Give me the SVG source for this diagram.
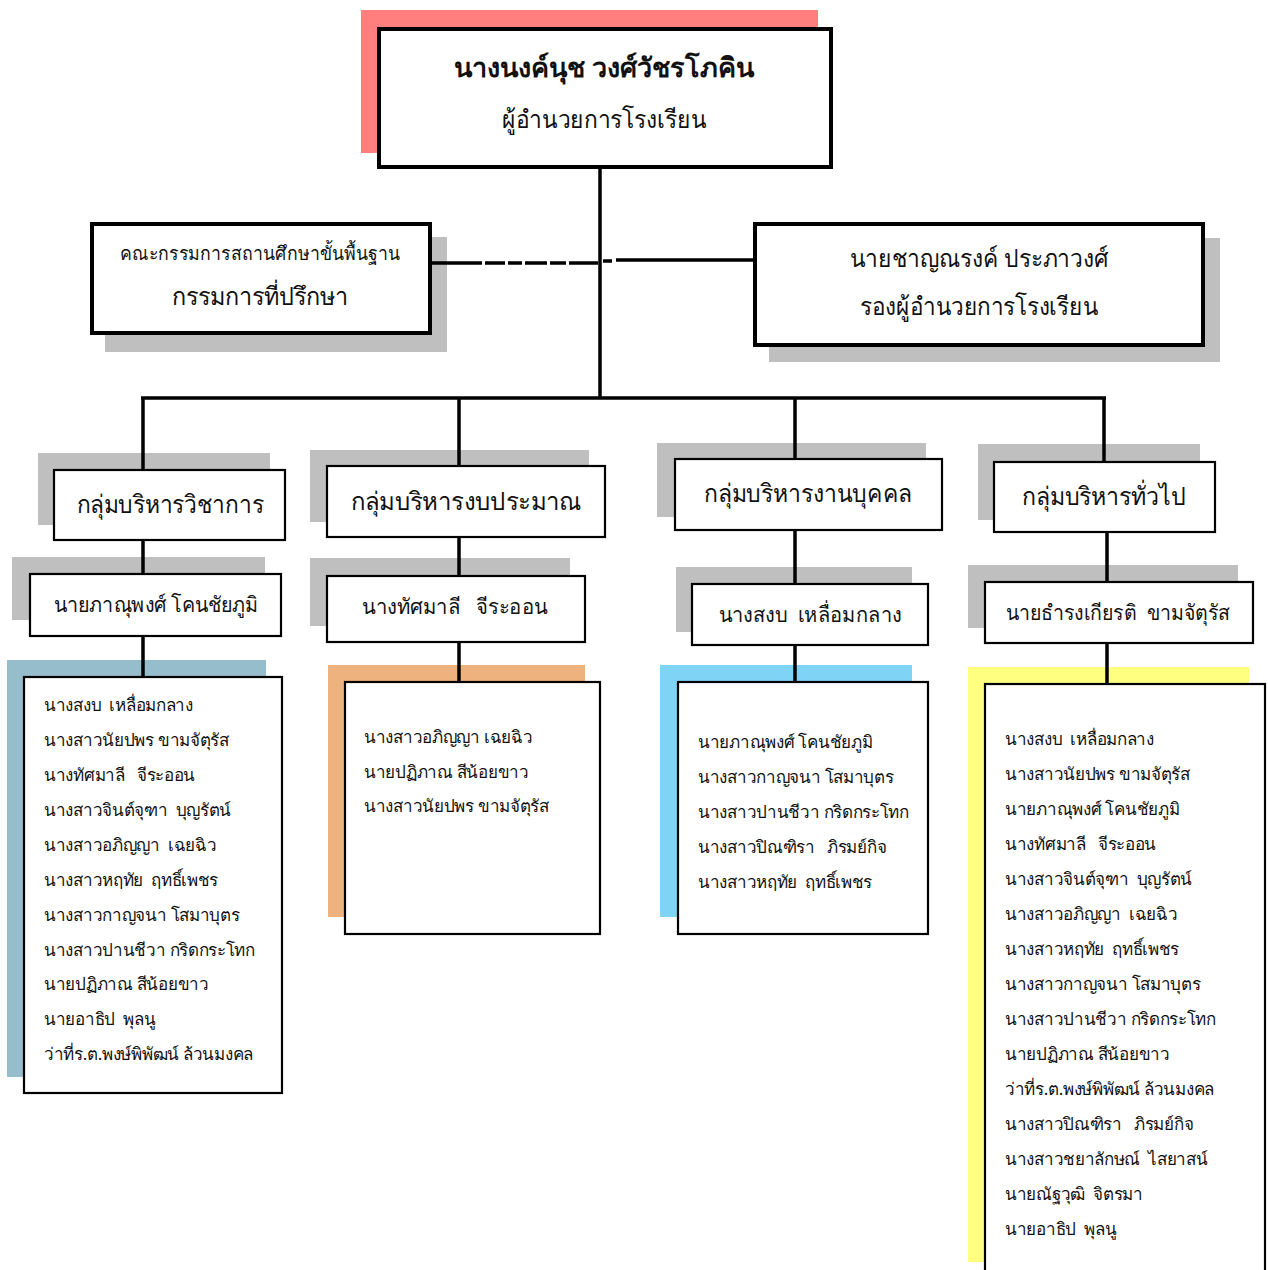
<svg xmlns="http://www.w3.org/2000/svg" width="1268" height="1270" viewBox="0 0 1268 1270">
<style>
text{font-family:"Noto Sans","DejaVu Sans","Liberation Sans",sans-serif;fill:#111}
.sh{fill:#BFBFBF}
.b4{fill:#fff;stroke:#000;stroke-width:4}
.b2{fill:#fff;stroke:#000;stroke-width:2.2}
.c{stroke:#000;stroke-width:3.5;fill:none}
.t1{font-size:27px;font-weight:bold;text-anchor:middle}
.t2{font-size:25px;text-anchor:middle}
.t3{font-size:19px;text-anchor:middle}
.g{font-size:25px;text-anchor:middle}
.h{font-size:21px;text-anchor:middle}
.l{font-size:17px;letter-spacing:-0.3px}
</style>
<rect width="1268" height="1270" fill="#fff"/>
<g id="director">
<rect x="361" y="10" width="457" height="143" fill="#FF7F7F"/>
<rect x="379" y="29" width="452" height="138" class="b4"/>
<text x="604" y="77" class="t1">นางนงค์นุช วงศ์วัชรโภคิน</text>
<text x="604" y="128" class="t2" textLength="204" lengthAdjust="spacingAndGlyphs">ผู้อำนวยการโรงเรียน</text>
</g>
<g id="advisory">
<rect x="105" y="237" width="342" height="115" class="sh"/>
<rect x="92" y="224" width="338" height="109" class="b4"/>
<text x="260" y="260" class="t3" textLength="280" lengthAdjust="spacingAndGlyphs">คณะกรรมการสถานศึกษาขั้นพื้นฐาน</text>
<text x="260" y="305" class="t2" textLength="177" lengthAdjust="spacingAndGlyphs">กรรมการที่ปรึกษา</text>
</g>
<g id="deputy">
<rect x="769" y="238" width="451" height="124" class="sh"/>
<rect x="755" y="224" width="448" height="121" class="b4"/>
<text x="979" y="267" class="t2" textLength="259" lengthAdjust="spacingAndGlyphs">นายชาญณรงค์ ประภาวงศ์</text>
<text x="979" y="315" class="t2" textLength="238" lengthAdjust="spacingAndGlyphs">รองผู้อำนวยการโรงเรียน</text>
</g>
<g id="group-academic">
<rect x="38" y="453" width="232" height="72" class="sh"/>
<rect x="54" y="470" width="231" height="70" class="b2"/>
<text x="170" y="513" class="g" textLength="187" lengthAdjust="spacingAndGlyphs">กลุ่มบริหารวิชาการ</text>
</g>
<g id="group-budget">
<rect x="310" y="450" width="279" height="72" class="sh"/>
<rect x="327" y="466" width="278" height="71" class="b2"/>
<text x="466" y="510" class="g" textLength="231" lengthAdjust="spacingAndGlyphs">กลุ่มบริหารงบประมาณ</text>
</g>
<g id="group-personnel">
<rect x="657" y="443" width="269" height="74" class="sh"/>
<rect x="675" y="459" width="267" height="71" class="b2"/>
<text x="808" y="502" class="g" textLength="208" lengthAdjust="spacingAndGlyphs">กลุ่มบริหารงานบุคคล</text>
</g>
<g id="group-general">
<rect x="978" y="444" width="222" height="76" class="sh"/>
<rect x="994" y="462" width="221" height="70" class="b2"/>
<text x="1104" y="505" class="g" textLength="164" lengthAdjust="spacingAndGlyphs">กลุ่มบริหารทั่วไป</text>
</g>
<g id="head-academic">
<rect x="12" y="557" width="253" height="63" class="sh"/>
<rect x="30" y="574" width="251" height="62" class="b2"/>
<text x="156" y="612" class="h" textLength="205" lengthAdjust="spacingAndGlyphs">นายภาณุพงศ์ โคนชัยภูมิ</text>
</g>
<g id="head-budget">
<rect x="310" y="558" width="260" height="68" class="sh"/>
<rect x="327" y="576" width="258" height="66" class="b2"/>
<text x="455" y="614" class="h" xml:space="preserve" textLength="186" lengthAdjust="spacingAndGlyphs">นางทัศมาลี   จีระออน</text>
</g>
<g id="head-personnel">
<rect x="676" y="567" width="236" height="65" class="sh"/>
<rect x="692" y="584" width="236" height="61" class="b2"/>
<text x="810" y="622" class="h" xml:space="preserve" textLength="183" lengthAdjust="spacingAndGlyphs">นางสงบ  เหลื่อมกลาง</text>
</g>
<g id="head-general">
<rect x="968" y="565" width="270" height="63" class="sh"/>
<rect x="985" y="582" width="268" height="61" class="b2"/>
<text x="1118" y="620" class="h" xml:space="preserve" textLength="225" lengthAdjust="spacingAndGlyphs">นายธำรงเกียรติ  ขามจัตุรัส</text>
</g>
<g id="list-academic">
<rect x="7" y="660" width="259" height="417" fill="#95BDCB"/>
<line x1="143" y1="660" x2="143" y2="677" class="c"/>
<rect x="24" y="677" width="258" height="416" class="b2"/>
<text class="l" xml:space="preserve"><tspan x="44" y="711">นางสงบ  เหลื่อมกลาง</tspan><tspan x="44" y="746">นางสาวนัยปพร ขามจัตุรัส</tspan><tspan x="44" y="781">นางทัศมาลี   จีระออน</tspan><tspan x="44" y="816">นางสาวจินต์จุฑา  บุญรัตน์</tspan><tspan x="44" y="851">นางสาวอภิญญา  เฉยฉิว</tspan><tspan x="44" y="886">นางสาวหฤทัย  ฤทธิ์เพชร</tspan><tspan x="44" y="921">นางสาวกาญจนา โสมาบุตร</tspan><tspan x="44" y="956">นางสาวปานชีวา กริดกระโทก</tspan><tspan x="44" y="990">นายปฏิภาณ สีน้อยขาว</tspan><tspan x="44" y="1025">นายอาธิป  พุลนู</tspan><tspan x="44" y="1060">ว่าที่ร.ต.พงษ์พิพัฒน์ ล้วนมงคล</tspan></text>
</g>
<g id="list-budget">
<rect x="328" y="665" width="257" height="252" fill="#EEB27E"/>
<line x1="459" y1="665" x2="459" y2="682" class="c"/>
<rect x="345" y="682" width="255" height="252" class="b2"/>
<text class="l" xml:space="preserve"><tspan x="364" y="743">นางสาวอภิญญา เฉยฉิว</tspan><tspan x="364" y="778">นายปฏิภาณ สีน้อยขาว</tspan><tspan x="364" y="812">นางสาวนัยปพร ขามจัตุรัส</tspan></text>
</g>
<g id="list-personnel">
<rect x="660" y="665" width="252" height="252" fill="#7FD4F5"/>
<line x1="795" y1="665" x2="795" y2="682" class="c"/>
<rect x="678" y="682" width="250" height="252" class="b2"/>
<text class="l" xml:space="preserve"><tspan x="698" y="748">นายภาณุพงศ์ โคนชัยภูมิ</tspan><tspan x="698" y="783">นางสาวกาญจนา โสมาบุตร</tspan><tspan x="698" y="818">นางสาวปานชีวา กริดกระโทก</tspan><tspan x="698" y="853">นางสาวปิณฑิรา   ภิรมย์กิจ</tspan><tspan x="698" y="888">นางสาวหฤทัย  ฤทธิ์เพชร</tspan></text>
</g>
<g id="list-general">
<rect x="968" y="667" width="281" height="595" fill="#FFFF80"/>
<line x1="1107" y1="667" x2="1107" y2="684" class="c"/>
<rect x="985" y="684" width="280" height="600" class="b2"/>
<text class="l" xml:space="preserve"><tspan x="1005" y="745">นางสงบ  เหลื่อมกลาง</tspan><tspan x="1005" y="780">นางสาวนัยปพร ขามจัตุรัส</tspan><tspan x="1005" y="815">นายภาณุพงศ์ โคนชัยภูมิ</tspan><tspan x="1005" y="850">นางทัศมาลี   จีระออน</tspan><tspan x="1005" y="885">นางสาวจินต์จุฑา  บุญรัตน์</tspan><tspan x="1005" y="920">นางสาวอภิญญา  เฉยฉิว</tspan><tspan x="1005" y="955">นางสาวหฤทัย  ฤทธิ์เพชร</tspan><tspan x="1005" y="990">นางสาวกาญจนา โสมาบุตร</tspan><tspan x="1005" y="1025">นางสาวปานชีวา กริดกระโทก</tspan><tspan x="1005" y="1060">นายปฏิภาณ สีน้อยขาว</tspan><tspan x="1005" y="1095">ว่าที่ร.ต.พงษ์พิพัฒน์ ล้วนมงคล</tspan><tspan x="1005" y="1130">นางสาวปิณฑิรา   ภิรมย์กิจ</tspan><tspan x="1005" y="1165">นางสาวชยาลักษณ์  ไสยาสน์</tspan><tspan x="1005" y="1200">นายณัฐวุฒิ  จิตรมา</tspan><tspan x="1005" y="1235">นายอาธิป  พุลนู</tspan></text>
</g>
<g id="connectors">
<line x1="600" y1="167" x2="600" y2="398" class="c"/>
<line x1="432" y1="263" x2="598" y2="263" class="c" stroke-dasharray="50 3 20 3 14 3 22 3 16 3 30"/>
<line x1="603" y1="261" x2="612" y2="261" class="c"/>
<line x1="616" y1="260" x2="755" y2="260" class="c"/>
<line x1="141" y1="398" x2="1106" y2="398" class="c"/>
<line x1="143" y1="398" x2="143" y2="469" class="c"/>
<line x1="459" y1="398" x2="459" y2="465" class="c"/>
<line x1="795" y1="398" x2="795" y2="458" class="c"/>
<line x1="1104" y1="398" x2="1104" y2="461" class="c"/>
<line x1="143" y1="541" x2="143" y2="573" class="c"/>
<line x1="459" y1="538" x2="459" y2="575" class="c"/>
<line x1="795" y1="531" x2="795" y2="583" class="c"/>
<line x1="1107" y1="533" x2="1107" y2="581" class="c"/>
<line x1="143" y1="637" x2="143" y2="660" class="c"/>
<line x1="459" y1="643" x2="459" y2="665" class="c"/>
<line x1="795" y1="646" x2="795" y2="665" class="c"/>
<line x1="1107" y1="644" x2="1107" y2="667" class="c"/>
</g>
</svg>
